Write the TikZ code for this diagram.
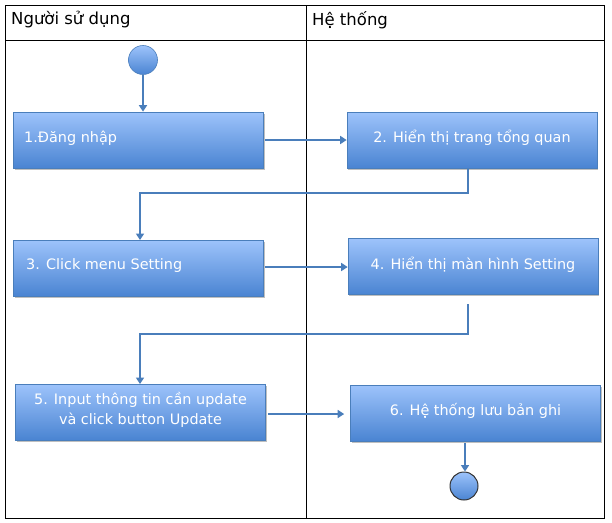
\documentclass[tikz,border=0pt]{standalone}
\usepackage{fontspec}
\setmainfont{DejaVu Sans}
\usetikzlibrary{arrows.meta,shadows}
\definecolor{boxtop}{HTML}{9DC3FB}
\definecolor{boxbot}{HTML}{4A84D2}
\definecolor{boxedge}{HTML}{4A7EBB}
\definecolor{flow}{HTML}{4A7EBB}
\tikzset{
  boxfont/.style={font=\fontsize{14.4}{20}\selectfont},
  actbox/.style={draw=boxedge, line width=0.6pt, top color=boxtop, bottom color=boxbot,
    minimum width=250pt, minimum height=56pt, boxfont,
    align=center, inner sep=0pt,
    drop shadow={shadow xshift=1pt, shadow yshift=-1.5pt, fill=black, opacity=0.25}},
  boxtext/.style={text=white, boxfont, align=center, inner sep=0pt},
  flowline/.style={draw=flow, line width=2.8pt, -{Triangle[length=6.5pt,width=8pt]}},
  startdot/.style={circle, minimum size=29pt, inner sep=0pt, top color=boxtop, bottom color=boxbot, draw=boxedge, line width=0.6pt},
  enddot/.style={circle, minimum size=28pt, inner sep=0pt, top color=boxtop, bottom color=boxbot, draw=black!80, line width=1pt},
  lane/.style={draw=black, line width=0.8pt},
  hdr/.style={anchor=west, font=\fontsize{16.5}{19}\selectfont, inner sep=0pt}
}
\begin{document}
\begin{tikzpicture}[x=1pt,y=-1pt]
\useasboundingbox (0,0) rectangle (612,522);
% lanes
\draw[lane] (5,5) rectangle (604,518);
\draw[lane] (5,40) -- (604,40);
\draw[lane] (306,5) -- (306,518);
\node[hdr] (h1) at (11,20) {Người sử dụng};
\node[hdr] (h2) at (312,20) {Hệ thống};
% nodes
\node[startdot] (start) at (143,60) {};
\node[actbox] (b1) at (138.5,140) {};
\node[boxtext, anchor=west] (t1) at (24,138) {1.Đăng nhập};
\node[actbox] (b2) at (472,140) {};
\node[boxtext] (t2) at (472,137.5) {2. Hiển thị trang tổng quan};
\node[actbox] (b3) at (138.5,268) {};
\node[boxtext, anchor=west] (t3) at (26,265.5) {3. Click menu Setting};
\node[actbox] (b4) at (473,266.5) {};
\node[boxtext] (t4) at (473,264.5) {4. Hiển thị màn hình Setting};
\node[actbox] (b5) at (140.5,412) {};
\node[boxtext] (t5) at (140.5,410) {5. Input thông tin cần update\\và click button Update};
\node[actbox] (b6) at (475.5,413) {};
\node[boxtext] (t6) at (475.5,411) {6. Hệ thống lưu bản ghi};
\node[enddot] (end) at (464,486) {};
% connectors
\coordinate (c4s) at (468,304);
\draw[flowline] (start.south) -- (b1.north -| start.south);
\draw[flowline] (b1.east |- 0,140) ++(1,0) -- (b2.west |- 0,140);
\draw[flowline] (468,168) |- (140,193) -- (140,240);
\draw[flowline] ([xshift=1pt]b3.east |- 0,267) -- (b4.west |- 0,267);
\draw[flowline] (c4s) |- (140,334) -- (140,384);
\draw[flowline] ([xshift=2pt]b5.east |- 0,414) -- ([xshift=-6pt]b6.west |- 0,414);
\draw[flowline] (465,443) -- (end.north -| 465,0);
\end{tikzpicture}
\end{document}
